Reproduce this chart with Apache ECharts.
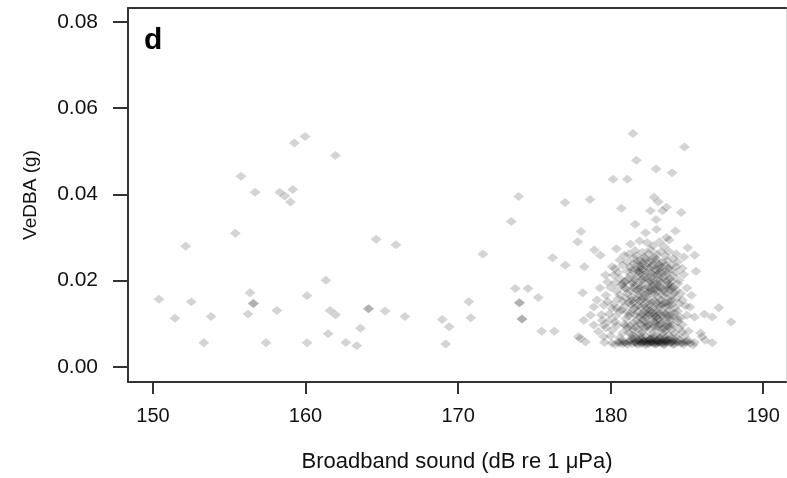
<!DOCTYPE html>
<html>
<head>
<meta charset="utf-8">
<script src="https://cdn.jsdelivr.net/npm/echarts@6/dist/echarts.min.js"></script>
<style>html,body{margin:0;padding:0;background:#fff}#c{width:787px;height:478px}</style>
</head>
<body>
<div id="c"></div>
<script>
// Tick labels
const xTicks = [150, 160, 170, 180, 190];
const yTicks = [0, 0.02, 0.04, 0.06, 0.08];
const panelLabel = 'd';
const xTitle = 'Broadband sound (dB re 1 \u03bcPa)';
const yTitle = 'VeDBA (g)';

// Sparse points, 150-178 dB
const pointsLow = [
  [150.39,0.0157],[151.44,0.0113],[152.14,0.0280],[152.51,0.0151],[153.33,0.0056],[153.81,0.0117],
  [155.40,0.0310],[155.77,0.0442],[156.36,0.0172],[156.58,0.0147],[156.58,0.0147],[156.69,0.0405],
  [156.23,0.0123],[157.41,0.0056],[158.12,0.0131],[158.31,0.0405],[158.64,0.0396],[159.16,0.0411],
  [159.01,0.0382],[159.27,0.0519],[159.97,0.0534],[160.10,0.0165],[160.10,0.0056],[161.33,0.0201],
  [161.48,0.0077],[161.61,0.0131],[161.96,0.0121],[161.96,0.0490],[162.64,0.0057],[163.36,0.0049],
  [163.60,0.0090],[164.13,0.0135],[164.13,0.0135],[164.63,0.0296],[165.22,0.0130],[165.92,0.0283],
  [166.51,0.0117],[168.96,0.0110],[169.19,0.0053],[169.42,0.0093],[170.70,0.0151],[170.83,0.0114],
  [171.63,0.0262],[173.49,0.0337],[173.75,0.0182],[173.97,0.0395],[174.02,0.0149],[174.02,0.0149],
  [174.19,0.0111],[174.19,0.0111],[174.58,0.0182],[175.26,0.0161],[175.48,0.0083],[176.20,0.0253],
  [176.31,0.0083],[177.01,0.0381],[177.03,0.0236],[177.84,0.0290],[178.06,0.0314],[178.17,0.0172],
  [178.28,0.0232],[178.65,0.0388]
];

// Outer points of the 178-188 dB cluster
const pointsClusterOuter = [
  [181.47,0.0541],[184.84,0.0510],[181.69,0.0479],[182.98,0.0459],[184.03,0.0450],[180.16,0.0435],
  [181.10,0.0435],[180.71,0.0368],[182.85,0.0393],[183.13,0.0383],[183.66,0.0370],[183.40,0.0362],
  [182.61,0.0362],[184.63,0.0358],[182.98,0.0342],[181.61,0.0331],[182.30,0.0311],[183.01,0.0319],
  [184.25,0.0315],[183.66,0.0300],[183.84,0.0294],[178.94,0.0271],[179.33,0.0259],[180.38,0.0274],
  [185.05,0.0276],[185.51,0.0259],[184.80,0.0255],[185.60,0.0222],[180.10,0.0232],[179.66,0.0213],
  [179.11,0.0155],[178.90,0.0139],[179.55,0.0143],[178.24,0.0108],[178.68,0.0120],[179.45,0.0108],
  [178.90,0.0097],[179.55,0.0097],[178.02,0.0066],[178.35,0.0058],[179.55,0.0070],[177.89,0.0070],
  [185.30,0.0166],[185.20,0.0139],[185.50,0.0116],[187.09,0.0137],[186.15,0.0122],[186.66,0.0116],
  [187.90,0.0104],[186.20,0.0062],[186.66,0.0056],[185.90,0.0079],[186.00,0.0070],
  [179.3,0.0183],[179.7,0.0166],[179.4,0.0121],[179.9,0.0107],[180.0,0.0072],[179.2,0.0082],
  [179.8,0.0197],[180.4,0.0136]
];

// Core of the cluster
const pointsClusterCore = [
  [181.3,0.0285],[181.9,0.0292],[182.4,0.0288],[182.8,0.0281],[183.2,0.0290],[183.5,0.0279],
  [181.6,0.0270],[182.1,0.0266],[182.6,0.0272],[183.0,0.0262],[183.8,0.0268],[184.3,0.0262],[180.9,0.0259],
  [180.6,0.0248],[181.1,0.0243],[181.5,0.0252],[181.8,0.0238],[182.0,0.0247],[182.3,0.0233],[182.7,0.0250],
  [183.1,0.0241],[183.4,0.0232],[183.7,0.0247],[184.0,0.0236],[184.4,0.0244],[181.9,0.0229],[182.1,0.0226],
  [180.3,0.0228],[184.7,0.0229],[183.0,0.0224],
  [180.2,0.0213],[180.6,0.0205],[180.9,0.0198],[181.0,0.0199],[181.3,0.0212],[181.6,0.0202],[181.9,0.0216],
  [182.2,0.0208],[182.5,0.0196],[182.8,0.0214],[183.1,0.0203],[183.4,0.0218],[183.7,0.0199],[183.9,0.0187],
  [184.1,0.0210],[184.5,0.0201],[184.8,0.0214],[180.8,0.0192],[182.0,0.0191],
  [180.0,0.0184],[180.4,0.0176],[180.7,0.0189],[181.1,0.0171],[181.5,0.0183],[181.8,0.0168],[182.3,0.0181],
  [182.6,0.0176],[182.6,0.0182],[182.9,0.0169],[183.2,0.0186],[183.5,0.0174],[183.8,0.0181],[184.0,0.0166],
  [184.3,0.0178],[184.6,0.0170],[185.0,0.0183],[181.4,0.0162],[182.1,0.0160],
  [179.8,0.0152],[180.2,0.0146],[180.5,0.0158],[180.9,0.0141],[181.2,0.0150],[181.6,0.0137],[181.9,0.0153],
  [182.2,0.0144],[182.5,0.0157],[182.8,0.0138],[183.0,0.0148],[183.3,0.0155],[183.6,0.0140],[183.9,0.0151],
  [184.2,0.0136],[184.5,0.0147],[184.9,0.0142],[182.4,0.0131],[183.1,0.0133],
  [179.9,0.0123],[180.3,0.0117],[180.6,0.0128],[181.0,0.0112],[181.3,0.0124],[181.7,0.0108],[182.0,0.0121],
  [182.3,0.0113],[182.7,0.0126],[183.0,0.0116],[183.0,0.0118],[183.3,0.0107],[183.6,0.0122],[183.9,0.0111],
  [184.2,0.0125],[184.6,0.0114],[185.0,0.0120],[181.5,0.0103],[182.9,0.0102],
  [179.7,0.0091],[180.1,0.0085],[180.4,0.0096],[180.8,0.0079],[181.1,0.0090],[181.4,0.0074],[181.8,0.0088],
  [182.1,0.0081],[182.4,0.0093],[182.7,0.0076],[183.0,0.0087],[183.3,0.0070],[183.6,0.0084],[183.9,0.0095],
  [184.2,0.0078],[184.5,0.0089],[184.8,0.0072],[185.1,0.0083],[180.6,0.0068],[182.6,0.0066],[184.0,0.0067]
];

// Second, denser layer of the cluster core
const pointsClusterCore2 = [
  [181.2,0.0262],[181.7,0.0258],[182.2,0.0255],[182.5,0.0263],[182.9,0.0254],[183.3,0.0267],[183.6,0.0257],[184.1,0.0251],
  [180.8,0.0236],[181.3,0.0231],[181.6,0.0226],[182.4,0.0241],[182.8,0.0237],[183.2,0.0228],[183.6,0.0235],[183.9,0.0224],[184.3,0.0232],
  [180.5,0.0219],[181.1,0.0222],[181.8,0.0221],[182.1,0.0203],[182.4,0.0219],[182.7,0.0207],[183.0,0.0211],[183.3,0.0196],
  [183.6,0.0212],[183.9,0.0205],[184.3,0.0219],
  [180.3,0.0195],[180.9,0.0185],[181.4,0.0194],[181.7,0.0178],[182.0,0.0186],[182.4,0.0172],[182.8,0.0190],[183.1,0.0177],
  [183.4,0.0166],[183.7,0.0189],[184.1,0.0184],[184.4,0.0193],
  [180.6,0.0167],[181.0,0.0160],[181.3,0.0145],[181.7,0.0158],[182.0,0.0139],[182.3,0.0163],[182.7,0.0150],[183.1,0.0162],
  [183.4,0.0145],[183.7,0.0157],[184.0,0.0144],[184.3,0.0159],[184.7,0.0155],
  [180.1,0.0136],[180.7,0.0132],[181.1,0.0127],[181.5,0.0134],[181.9,0.0116],[182.2,0.0128],[182.5,0.0119],[182.8,0.0112],
  [183.2,0.0125],[183.5,0.0113],[183.8,0.0130],[184.1,0.0117],[184.4,0.0129],
  [180.3,0.0104],[180.9,0.0099],[181.3,0.0096],[181.6,0.0092],[182.0,0.0099],[182.3,0.0104],[182.6,0.0088],[182.9,0.0094],
  [183.2,0.0099],[183.5,0.0091],[183.8,0.0103],[184.1,0.0097],[184.4,0.0105],[184.7,0.0098],
  [181.2,0.0080],[181.6,0.0071],[181.9,0.0076],[182.3,0.0071],[182.9,0.0073],[183.4,0.0079],[183.8,0.0074],[184.3,0.0069],[184.7,0.0081]
];

// Third layer, darkest part of the core
const pointsClusterCore3 = [
  [181.8,0.0245],[182.3,0.0250],[182.6,0.0244],[183.0,0.0249],[183.4,0.0243],[181.5,0.0239],
  [182.0,0.0233],[182.5,0.0228],[182.9,0.0226],[183.3,0.0221],[183.8,0.0229],[181.4,0.0224],
  [181.2,0.0205],[181.7,0.0210],[182.2,0.0215],[182.6,0.0200],[183.0,0.0193],[183.5,0.0206],[184.0,0.0198],
  [181.0,0.0181],[181.6,0.0188],[181.9,0.0174],[182.5,0.0185],[182.9,0.0178],[183.3,0.0183],[183.7,0.0170],[184.2,0.0172],
  [180.8,0.0152],[181.4,0.0155],[181.8,0.0143],[182.4,0.0149],[182.6,0.0141],[183.2,0.0140],[183.6,0.0149],[184.0,0.0155],
  [181.2,0.0118],[181.6,0.0121],[182.1,0.0109],[182.5,0.0124],[182.8,0.0120],[183.1,0.0110],[183.5,0.0127],[183.9,0.0121],
  [184.4,0.0112],
  [181.0,0.0095],[181.5,0.0086],[182.2,0.0089],[182.5,0.0099],[183.1,0.0093],[183.4,0.0087],[183.7,0.0094],[184.0,0.0086],
  [181.4,0.0068],[182.0,0.0070],[182.8,0.0068],[183.2,0.0069],[183.6,0.0068]
];

// Fourth layer, centre of the core
const pointsClusterCore4 = [
  [182.1,0.0240],[182.7,0.0233],[183.2,0.0236],[181.9,0.0222],[182.6,0.0218],[183.1,0.0215],[183.7,0.0220],
  [181.5,0.0196],[182.0,0.0200],[182.4,0.0204],[182.8,0.0195],[183.3,0.0201],[183.8,0.0193],
  [181.3,0.0176],[181.9,0.0182],[182.2,0.0169],[182.7,0.0171],[183.0,0.0184],[183.5,0.0179],[184.0,0.0181],
  [181.5,0.0148],[182.0,0.0156],[182.3,0.0138],[182.9,0.0153],[183.3,0.0146],[183.8,0.0142],
  [181.8,0.0128],[182.2,0.0119],[182.6,0.0131],[183.0,0.0126],[183.4,0.0119],[183.8,0.0115],
  [181.9,0.0101],[182.4,0.0096],[182.8,0.0105],[183.3,0.0101],[183.7,0.0098],
  [181.6,0.0058],[182.1,0.0061],[182.6,0.0059],[183.1,0.0058],[183.6,0.0061],[184.0,0.0059]
];

// Floor of the cluster (lowest VeDBA values)
const pointsClusterFloor = [
  [179.6,0.0057],[180.1,0.0055],[180.5,0.0058],[180.8,0.0054],[181.0,0.0056],[181.2,0.0059],[181.4,0.0054],
  [181.6,0.0057],[181.7,0.0055],[181.9,0.0058],[182.0,0.0054],[182.1,0.0056],[182.2,0.0059],[182.3,0.0055],
  [182.4,0.0057],[182.5,0.0054],[182.6,0.0056],[182.7,0.0058],[182.8,0.0055],[182.9,0.0057],[183.0,0.0054],
  [183.1,0.0056],[183.2,0.0058],[183.3,0.0055],[183.4,0.0057],[183.5,0.0054],[183.6,0.0056],[183.7,0.0058],
  [183.9,0.0055],[184.0,0.0057],[184.2,0.0054],[184.4,0.0057],[184.6,0.0055],[184.9,0.0058],[185.2,0.0055],
  [185.5,0.0057],[181.3,0.0061],[181.8,0.0062],[182.2,0.0061],[182.5,0.0062],[182.8,0.0061],[183.1,0.0062],
  [183.4,0.0061],[183.7,0.0062],[184.1,0.0061],
  [180.3,0.0052],[180.7,0.0061],[181.1,0.0052],[181.5,0.0064],[181.8,0.0052],[182.0,0.0065],[182.3,0.0051],
  [182.6,0.0064],[182.9,0.0052],[183.2,0.0065],[183.5,0.0051],[183.8,0.0064],[184.1,0.0052],[184.5,0.0063],
  [184.8,0.0052],[185.1,0.0062],[185.4,0.0051],[181.9,0.0060],[182.4,0.0060],[183.0,0.0060],[183.6,0.0060],
  [184.3,0.0060],[180.6,0.0055],[180.9,0.0058],[184.7,0.0056],[185.0,0.0059]
];

const allPoints = pointsLow.concat(pointsClusterOuter, pointsClusterCore, pointsClusterCore2,
  pointsClusterCore3, pointsClusterCore4, pointsClusterFloor);

const chart = echarts.init(document.getElementById('c'), null, {renderer: 'canvas'});
const axisColor = '#333333';
const textColor = '#111111';
const font = 'Liberation Sans, Arial, sans-serif';
chart.setOption({
  animation: false,
  backgroundColor: '#ffffff',
  grid: {left: 128, top: 8, right: 1, bottom: 96, containLabel: false},
  xAxis: [{
    type: 'value', min: 148.36, max: 191.5, position: 'bottom',
    axisLine: {show: true, onZero: false, lineStyle: {color: axisColor, width: 2}},
    axisTick: {show: true, inside: false, length: 12, customValues: xTicks, lineStyle: {color: axisColor, width: 2}},
    axisLabel: {show: true, customValues: xTicks, margin: 24, color: textColor, fontSize: 20, fontFamily: font},
    splitLine: {show: false},
    name: xTitle, nameLocation: 'middle', nameGap: 69,
    nameTextStyle: {color: textColor, fontSize: 22, fontFamily: font}
  }, {
    type: 'value', min: 148.36, max: 191.5, position: 'top',
    axisLine: {show: true, onZero: false, lineStyle: {color: axisColor, width: 2}},
    axisTick: {show: false}, axisLabel: {show: false}, splitLine: {show: false}
  }],
  yAxis: [{
    type: 'value', min: -0.00348, max: 0.08318, position: 'left',
    axisLine: {show: true, onZero: false, lineStyle: {color: axisColor, width: 2}},
    axisTick: {show: true, inside: false, length: 15, customValues: yTicks, lineStyle: {color: axisColor, width: 2}},
    axisLabel: {show: true, customValues: yTicks, margin: 30, color: textColor, fontSize: 21, fontFamily: font,
      formatter: v => v.toFixed(2)},
    splitLine: {show: false},
    name: yTitle, nameLocation: 'middle', nameGap: 88,
    nameTextStyle: {color: textColor, fontSize: 19, fontFamily: font}
  }, {
    type: 'value', min: -0.00348, max: 0.08318, position: 'right',
    axisLine: {show: true, onZero: false, lineStyle: {color: '#d8d8d8', width: 1}},
    axisTick: {show: false}, axisLabel: {show: false}, splitLine: {show: false}
  }],
  graphic: [{
    type: 'text', left: 144, top: 26,
    style: {text: panelLabel, font: 'bold 30px ' + font, fill: '#000'}
  }],
  series: [{
    type: 'scatter', xAxisIndex: 0, yAxisIndex: 0,
    data: allPoints,
    symbol: 'diamond', symbolSize: [11, 9],
    itemStyle: {color: 'rgba(0,0,0,0.21)', borderWidth: 0},
    emphasis: {disabled: true}
  }]
});
</script>
</body>
</html>
